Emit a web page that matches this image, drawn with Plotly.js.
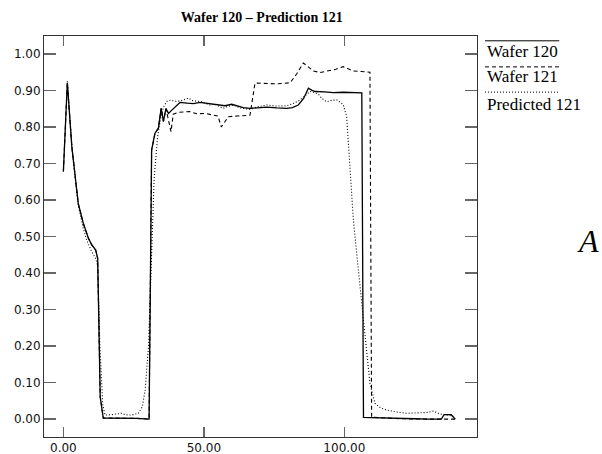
<!DOCTYPE html>
<html>
<head>
<meta charset="utf-8">
<script src="https://cdn.plot.ly/plotly-3.0.1.min.js"></script>
<style>html,body{margin:0;padding:0;background:#fff;}#chart{width:602px;height:454px;}</style>
</head>
<body>
<div id="chart"></div>
<script>
// Wafer 120 (solid)
const wafer120X = [0, 1.4, 3, 4.2, 5.3, 7.1, 8.9, 10.1, 11.5, 12.2, 13.1, 14.2, 18, 22, 26, 30.5, 31.4, 32.6, 33.8, 34.8, 35.6, 36.5, 37.4, 38.6, 40.4, 41.5, 44, 46.3, 48.6, 52, 55.8, 57.5, 59.9, 62, 64, 66.4, 69, 72.4, 76, 79.5, 81.5, 83.6, 85.5, 87.2, 88.5, 89.6, 93, 96.1, 99.6, 103, 106.2, 106.8, 110, 115, 120, 125, 130, 134.5, 135.5, 138, 139.5];
const wafer120Y = [0.678, 0.921, 0.746, 0.664, 0.59, 0.536, 0.495, 0.477, 0.463, 0.44, 0.061, 0.003, 0.003, 0.002, 0.002, 0.0, 0.737, 0.783, 0.796, 0.851, 0.815, 0.85, 0.837, 0.846, 0.858, 0.867, 0.865, 0.864, 0.867, 0.863, 0.86, 0.858, 0.862, 0.857, 0.853, 0.851, 0.853, 0.854, 0.852, 0.851, 0.853, 0.86, 0.878, 0.906, 0.9, 0.897, 0.896, 0.894, 0.895, 0.893, 0.893, 0.005, 0.004, 0.003, 0.002, 0.001, 0.0, 0.0, 0.012, 0.012, 0.0];

// Wafer 121 (dashed)
const wafer121X = [0, 1.4, 3, 4.2, 5.3, 7.1, 8.9, 10.1, 11.5, 12.2, 13.1, 14.2, 18, 22, 26, 30.5, 31.4, 32.6, 33.8, 34.8, 35.6, 36.5, 37.4, 38.3, 39.1, 40.9, 45, 47.5, 50.4, 53.4, 55, 56.2, 57.5, 58.7, 62, 66.4, 68.2, 72.4, 76, 80.7, 83, 85.4, 87, 89, 91.4, 94.9, 97, 99.6, 101.5, 103.2, 106, 109.1, 109.7, 115, 120, 130, 140];
const wafer121Y = [0.678, 0.921, 0.746, 0.664, 0.59, 0.536, 0.495, 0.477, 0.463, 0.44, 0.061, 0.003, 0.003, 0.002, 0.002, 0.0, 0.737, 0.783, 0.796, 0.851, 0.815, 0.85, 0.82, 0.787, 0.835, 0.84, 0.842, 0.836, 0.837, 0.833, 0.83, 0.80, 0.815, 0.828, 0.83, 0.832, 0.92, 0.92, 0.918, 0.921, 0.945, 0.975, 0.965, 0.953, 0.949, 0.955, 0.958, 0.965, 0.958, 0.953, 0.952, 0.95, 0.005, 0.002, 0.001, 0.0, 0.0];

// Predicted 121 (dotted)
const predictedX = [1.4, 3, 4.2, 5.3, 6, 7, 8.3, 10.1, 11.5, 12.2, 13, 14, 14.8, 17, 20.8, 22, 24.3, 26.7, 28.1, 29.1, 30.3, 31.2, 32.3, 33.5, 34.5, 35.6, 36.8, 38, 40.4, 42, 44.5, 46, 48.6, 52.2, 54, 56.9, 58, 60.5, 63, 66.4, 69, 72.4, 76, 79.5, 82, 84.2, 86, 87.8, 89, 90.7, 92, 93.7, 95.5, 97.3, 99, 99.6, 100.8, 102, 103.2, 104.7, 106.2, 107.7, 109.1, 110.9, 113, 115.1, 118, 122.2, 126, 129.3, 131.7, 134, 136, 138.8];
const predictedY = [0.925, 0.75, 0.66, 0.585, 0.56, 0.525, 0.49, 0.458, 0.44, 0.42, 0.2, 0.04, 0.011, 0.012, 0.016, 0.012, 0.011, 0.016, 0.034, 0.08, 0.2, 0.42, 0.66, 0.77, 0.82, 0.854, 0.87, 0.873, 0.87, 0.872, 0.879, 0.872, 0.87, 0.86, 0.862, 0.851, 0.855, 0.86, 0.852, 0.848, 0.855, 0.86, 0.857, 0.858, 0.865, 0.874, 0.885, 0.897, 0.895, 0.89, 0.878, 0.869, 0.873, 0.874, 0.865, 0.86, 0.83, 0.7, 0.545, 0.43, 0.317, 0.2, 0.098, 0.043, 0.03, 0.025, 0.02, 0.016, 0.017, 0.018, 0.022, 0.014, 0.012, 0.008];

const seriesNames = ["Wafer 120", "Wafer 121", "Predicted 121"];
const xTickVals = [0, 50, 100];
const xTickText = ["0.00", "50.00", "100.00"];
const yTickVals = [0, 0.1, 0.2, 0.3, 0.4, 0.5, 0.6, 0.7, 0.8, 0.9, 1.0];
const yTickText = ["0.00", "0.10", "0.20", "0.30", "0.40", "0.50", "0.60", "0.70", "0.80", "0.90", "1.00"];

const dashes = ["solid", "4px,3px", "1px,2px"];
const widths = [1.3, 1.1, 1.1];
const xs = [wafer120X, wafer121X, predictedX];
const ys = [wafer120Y, wafer121Y, predictedY];

const traces = seriesNames.map((n, i) => ({
  type: "scatter", mode: "lines", name: n,
  x: xs[i], y: ys[i],
  line: {color: "#000", width: widths[i], dash: dashes[i]},
  showlegend: false, hoverinfo: "skip"
}));

// manual legend (line above text, as in the reference)
const legY = [0.988, 0.923, 0.860];
const legTextY = [0.962, 0.898, 0.830];
const shapes = seriesNames.map((n, i) => ({
  type: "line", xref: "paper", yref: "paper",
  x0: 1.0185, x1: 1.19, y0: legY[i], y1: legY[i],
  line: {color: "#000", width: 1, dash: dashes[i]}
}));
const annotations = seriesNames.map((n, i) => ({
  text: n, xref: "paper", yref: "paper", x: 1.019, y: legTextY[i],
  xanchor: "left", yanchor: "middle", showarrow: false,
  font: {family: "Liberation Serif, serif", size: 17, color: "#000"}
}));
annotations.push({
  text: "<i>A</i>", xref: "paper", yref: "paper", x: 1.226, y: 0.49,
  xanchor: "left", yanchor: "middle", showarrow: false,
  font: {family: "Liberation Serif, serif", size: 32, color: "#000"}
});

const layout = {
  width: 602, height: 454,
  margin: {l: 44, r: 125, t: 36, b: 17},
  paper_bgcolor: "#fff", plot_bgcolor: "#fff",
  title: {
    text: "<b>Wafer 120 – Prediction 121</b>",
    x: 0.503, xref: "paper", xanchor: "center",
    y: 0.9626, yref: "container", yanchor: "middle",
    font: {family: "Liberation Serif, serif", size: 14, color: "#000"}
  },
  xaxis: {
    range: [-6.9, 147.2], tickvals: xTickVals, ticktext: xTickText,
    ticks: "inside", ticklen: 10, tickwidth: 1.5, tickcolor: "#666",
    showline: true, linecolor: "#333", linewidth: 1, mirror: "ticks",
    showgrid: false, zeroline: false, automargin: false,
    tickfont: {family: "DejaVu Sans, sans-serif", size: 12, color: "#111"}
  },
  yaxis: {
    range: [-0.049, 1.049], tickvals: yTickVals, ticktext: yTickText,
    ticks: "inside", ticklen: 12, tickwidth: 1.5, tickcolor: "#666",
    showline: true, linecolor: "#333", linewidth: 1, mirror: "ticks",
    showgrid: false, zeroline: false, automargin: false,
    tickfont: {family: "DejaVu Sans, sans-serif", size: 12, color: "#111"}
  },
  shapes: shapes,
  annotations: annotations,
  showlegend: false
};

Plotly.newPlot("chart", traces, layout, {staticPlot: true, displayModeBar: false});
</script>
</body>
</html>
